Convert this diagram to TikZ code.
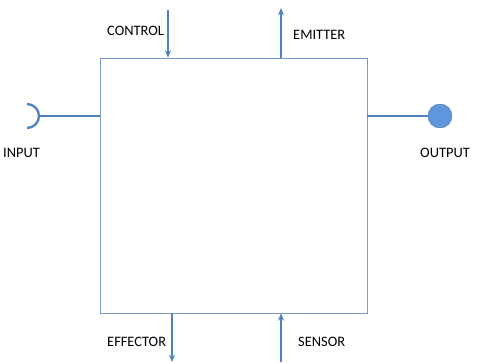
\documentclass[tikz,border=0pt]{standalone}
\usepackage{fontspec}
\setmainfont{Carlito}
\usetikzlibrary{arrows.meta, positioning, calc}
\definecolor{cLine}{RGB}{79,129,189}
\definecolor{cBox}{RGB}{120,155,200}
\definecolor{cDot}{RGB}{95,150,220}
\tikzset{
    block/.style={rectangle, draw=cBox, line width=0.6pt, inner sep=0pt, minimum width=8.01cm, minimum height=7.65cm},
    port/.style={draw=cLine, line width=1.1pt},
    signal/.style={-{Stealth[length=2.2mm, width=1.8mm]}, draw=cLine, line width=1.1pt},
    tag/.style={font=\fontsize{12.3}{14}\selectfont, inner sep=0pt, anchor=west},
}
\begin{document}
\begin{tikzpicture}[x=0.03cm, y=0.03cm]
        \useasboundingbox (0,0) rectangle (482,362);
        % main block
        \node[block] (box) at (233.5,176.5) {};
        % input / output ports
        \coordinate (inp) at (38,246);
        \node[circle, draw=cLine, fill=cDot, minimum size=0.72cm, inner sep=0pt] (out) at (440,246) {};
        \draw[port] (box.west |- inp) -- (inp);
        \draw[port, line width=2pt] ($(inp)+(-11,12)$) arc[start angle=90, end angle=-90, radius=12];
        \draw[port] (box.east |- out) -- (out);
        \node[tag] (inlbl) at (3,209) {INPUT};
        \node[tag] (outlbl) at (420,209) {OUTPUT};
        % top signals
        \coordinate (ctl) at (168,352);
        \coordinate (emi) at (281,354);
        \draw[signal] (ctl) -- (ctl |- box.north);
        \draw[signal] (emi |- box.north) -- (emi);
        \node[tag] (ctllbl) at (107,331) {CONTROL};
        \node[tag] (emilbl) at (293,327) {EMITTER};
        % bottom signals
        \coordinate (eff) at (172,0);
        \coordinate (sen) at (281,0);
        \draw[signal] (eff |- box.south) -- (eff);
        \draw[signal] (sen) -- (sen |- box.south);
        \node[tag] (efflbl) at (107,20) {EFFECTOR};
        \node[tag] (senlbl) at (298,20) {SENSOR};
    \end{tikzpicture}
\end{document}
